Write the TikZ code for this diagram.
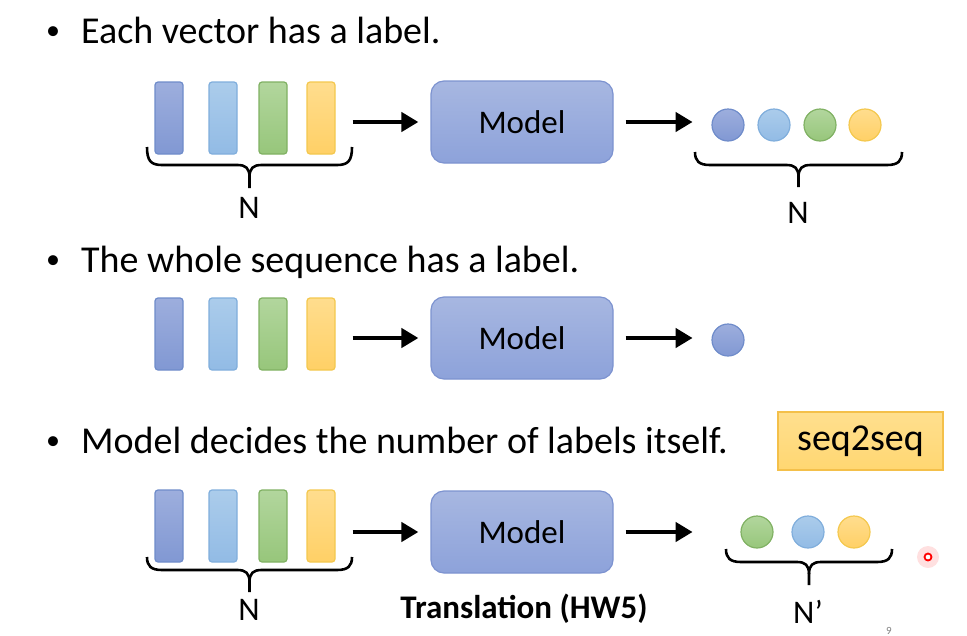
\documentclass[tikz,border=0pt]{standalone}
\usepackage{fontspec}
\setmainfont{Carlito}
\usetikzlibrary{arrows.meta}

\definecolor{vecAtop}{HTML}{9DAEDD}
\definecolor{vecAbot}{HTML}{8198D3}
\definecolor{vecAline}{HTML}{6F8CCA}
\definecolor{vecBtop}{HTML}{ABCCEB}
\definecolor{vecBbot}{HTML}{92BBE5}
\definecolor{vecBline}{HTML}{80AEDC}
\definecolor{vecCtop}{HTML}{B2D69D}
\definecolor{vecCbot}{HTML}{97C67B}
\definecolor{vecCline}{HTML}{80B163}
\definecolor{vecDtop}{HTML}{FFDD8E}
\definecolor{vecDbot}{HTML}{FFD066}
\definecolor{vecDline}{HTML}{F4C84E}
\definecolor{modeltop}{HTML}{A7B7E1}
\definecolor{modelbot}{HTML}{8DA2DA}
\definecolor{modelline}{HTML}{7D93D0}
\definecolor{tagfill}{HTML}{FFD772}
\definecolor{tagline}{HTML}{F4C04A}

\begin{document}
\begin{tikzpicture}[
  x=1pt, y=-1pt,
  bullettext/.style={font=\fontsize{38}{40}\selectfont, anchor=base west, inner sep=0pt},
  bulletmark/.style={font=\fontsize{28}{30}\selectfont, anchor=base, inner sep=0pt},
  vec/.style={draw, line width=1.2pt, minimum width=28pt, minimum height=72pt, rounded corners=3pt, inner sep=0pt},
  dot/.style={circle, draw, line width=1.2pt, minimum size=32pt, inner sep=0pt},
  model/.style={draw=modelline, line width=1.2pt, top color=modeltop, bottom color=modelbot,
    minimum width=182pt, minimum height=82pt, rounded corners=13pt, font=\fontsize{33}{36}\selectfont},
  arr/.style={line width=4.5pt, -{Triangle[length=17pt,width=19pt]}},
  brc/.style={line width=2.6pt, line join=round},
  cnt/.style={font=\fontsize{33}{36}\selectfont, inner sep=0pt, anchor=base}
]
\useasboundingbox (0,0) rectangle (967,635);

% bullet lines
\foreach \k/\y/\txt in {1/43/Each vector has a label., 2/272/The whole sequence has a label., 3/453/Model decides the number of labels itself.} {
  \node[bulletmark] (bul\k) at (53,\y-4) {•};
  \node[bullettext] (txt\k) at (81,\y) {\txt};
}

% input vectors, model and arrow for each row
\foreach \r/\y/\my in {1/118/122, 2/334/338, 3/526/532} {
  \foreach \i/\x/\c in {1/169/A, 2/223/B, 3/273/C, 4/321/D}
    \node[vec, draw=vec\c line, top color=vec\c top, bottom color=vec\c bot] (v\r\i) at (\x,\y) {};
  \node[model] (m\r) at (522,\my) {Model};
  \draw[arr] ([xshift=17pt]v\r4.east |- m\r.west) -- ([xshift=-12pt]m\r.west);
  \draw[arr] ([xshift=12pt]m\r.east) -- ([xshift=79pt]m\r.east);
}

% outputs
\foreach \i/\x/\c in {1/728/A, 2/774/B, 3/820/C, 4/865/D}
  \node[dot, draw=vec\c line, top color=vec\c top, bottom color=vec\c bot] (o1\i) at (\x,125) {};
\node[dot, draw=vecAline, top color=vecAtop, bottom color=vecAbot] (o21) at (728,340) {};
\foreach \i/\x/\c in {1/757/C, 2/808/B, 3/854/D}
  \node[dot, draw=vec\c line, top color=vec\c top, bottom color=vec\c bot] (o3\i) at (\x,532) {};

% braces
\foreach \xa/\xb/\yt/\ym/\yb in {147/352/147/165/188, 695/902/152/165/187, 147/352/557/570/592, 726/892/549/562/585} {
  \pgfmathsetmacro\xm{(\xa+\xb)/2}
  \draw[brc] (\xa,\yt) .. controls (\xa,{\ym-4}) and ({\xa+4},\ym) .. ({\xa+15},\ym)
    -- ({\xm-12},\ym) .. controls ({\xm-4},\ym) and (\xm,{\ym+3}) .. (\xm,{\ym+12}) -- (\xm,\yb);
  \draw[brc] (\xb,\yt) .. controls (\xb,{\ym-4}) and ({\xb-4},\ym) .. ({\xb-15},\ym)
    -- ({\xm+12},\ym) .. controls ({\xm+4},\ym) and (\xm,{\ym+3}) .. (\xm,{\ym+12});
}
\node[cnt] (n1) at (249,218) {N};
\node[cnt] (n2) at (798,223) {N};
\node[cnt] (n3) at (249,620) {N};
\node[cnt] (n4) at (808,623) {N’};

\node[font=\fontsize{33}{35}\selectfont\bfseries, inner sep=0pt, anchor=base] (task) at (524,618) {Translation (HW5)};
\node[draw=tagline, line width=1.2pt, top color=tagfill!80!white, bottom color=tagfill,
  minimum width=165pt, minimum height=58pt, font=\fontsize{38}{40}\selectfont] (s2s) at (860.5,441) {seq2seq};

% pointer and page number
\fill[red, opacity=0.12] (928,557) circle (11);
\draw[red, line width=1.8pt, fill=white] (928,557) circle (3.5);
\node[text=gray, font=\fontsize{11}{11}\selectfont, anchor=base, inner sep=0pt] (pg) at (889,634) {9};
\end{tikzpicture}
\end{document}
